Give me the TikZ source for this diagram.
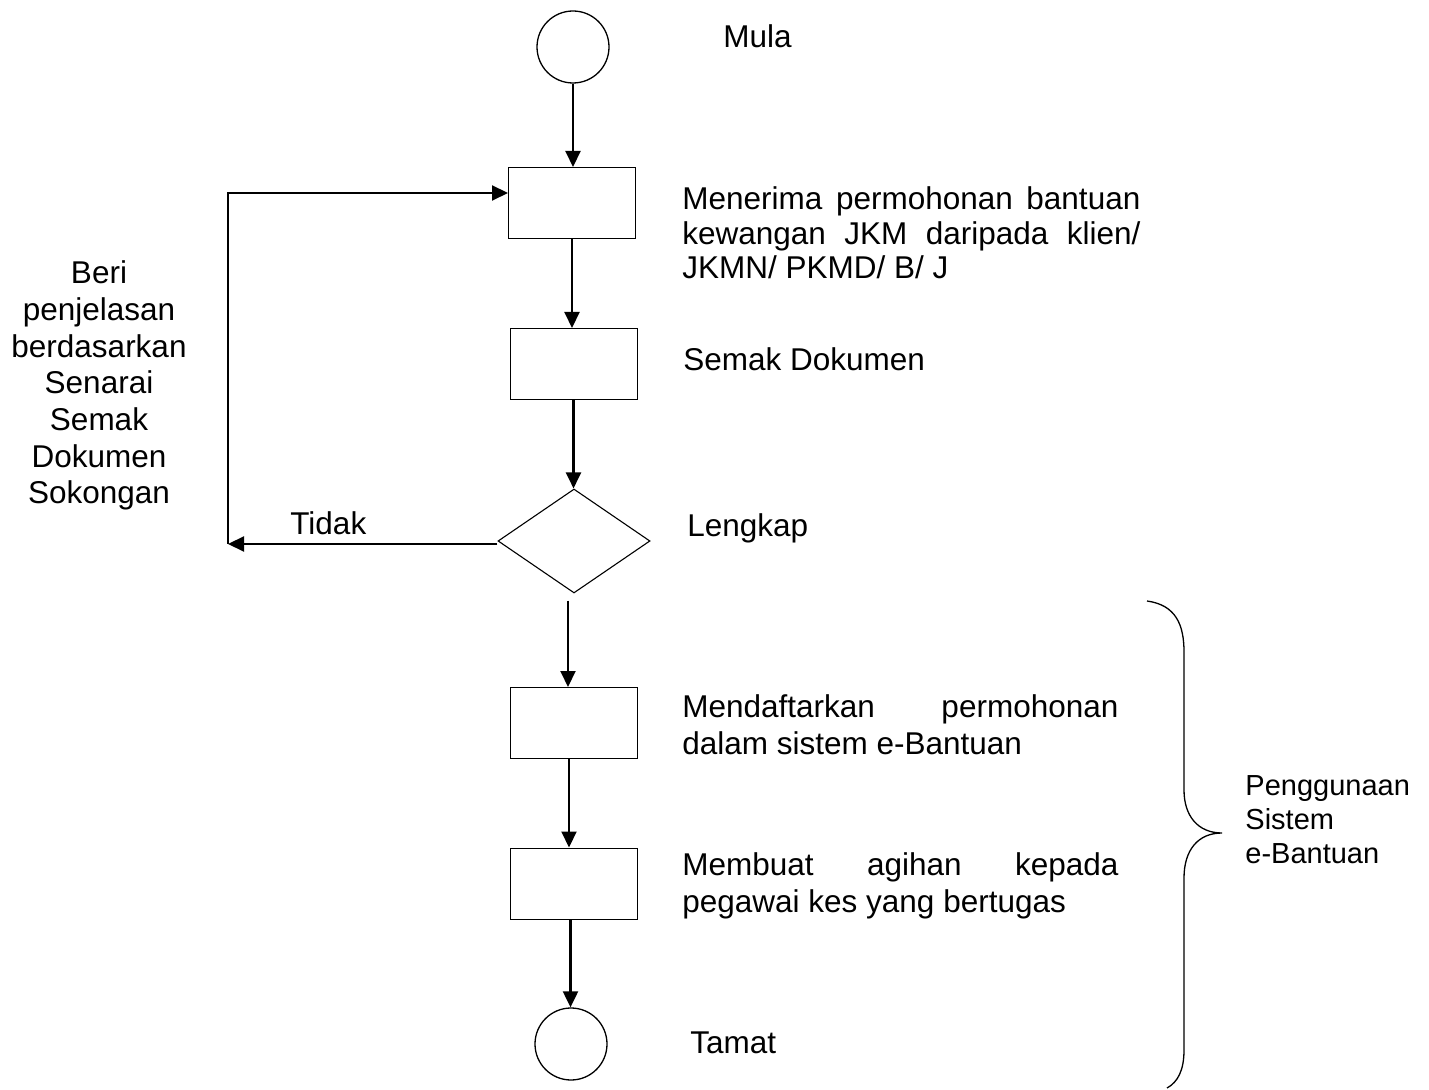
\documentclass[tikz,border=0pt]{standalone}
\usepackage{fontspec}
\setmainfont{Liberation Sans}
\usetikzlibrary{shapes.geometric,arrows.meta}
\begin{document}
\begin{tikzpicture}[x=0.5pt,y=-0.5pt,
  terminal/.style={draw,circle,line width=0.65pt,minimum size=36pt,inner sep=0pt},
  stepbox/.style={draw,rectangle,line width=0.5pt,minimum width=63.5pt,minimum height=35.5pt,inner sep=0pt},
  decision/.style={draw,diamond,line width=0.55pt,minimum width=76pt,minimum height=52pt,inner sep=0pt,aspect=1.46},
  flow/.style={line width=1.05pt,-{Triangle[length=8pt,width=7.5pt]}},
  lbl/.style={inner sep=0pt,anchor=base west,font=\fontsize{15.75}{17.4}\selectfont,align=left},
]
\useasboundingbox (0,0) rectangle (1429,1090);

% flow shapes
\node[terminal] (start) at (573,47) {};
\node[stepbox] (b1) at (572,203) {};
\node[stepbox] (b2) at (573.5,364) {};
\node[decision] (d) at (574,541) {};
\node[stepbox] (b3) at (573.5,723) {};
\node[stepbox] (b4) at (573.5,883.5) {};
\node[terminal] (end) at (571,1044) {};

% main vertical flow
\draw[flow] (start.south) -- (start.south |- b1.north);
\draw[flow] (b1.south) -- (b1.south |- b2.north);
\draw[flow] (b2.south) -- (b2.south |- d.north);
\coordinate (dx) at ([xshift=-3pt,yshift=-3.5pt]d.south);
\draw[flow] (dx) -- (dx |- b3.north);
\draw[flow] ([xshift=-2.25pt]b3.south) -- ([xshift=-2.25pt]b4.north);
\coordinate (ex) at ([xshift=-1.5pt]b4.south);
\draw[flow] (ex) -- (ex |- end.north);

% return path for incomplete documents
\coordinate (dw) at ([yshift=-1.5pt]d.west);
\coordinate (lb) at (228,544);
\coordinate (lt) at (228,193);
\draw[flow] (dw) -- (dw -| lb);
\draw[flow] (lb) -- (lt) -- (lt -| b1.west);

% step descriptions (nodes anchored at the baseline of their last line)
\node[lbl] (tmula) at (723,48) {Mula};
\node[lbl,font=\fontsize{15.75}{17.3}\selectfont] (t1) at (682,279)
  {\makebox[229pt][s]{Menerima permohonan bantuan}\\
   \makebox[229pt][s]{kewangan JKM daripada klien/}\\
   JKMN/ PKMD/ B/ J};
\node[lbl] (t2) at (683,371) {Semak Dokumen};
\node[lbl] (t3) at (687,537) {Lengkap};
\node[lbl,font=\fontsize{15.75}{18.5}\selectfont] (t4) at (682,754)
  {\makebox[218pt][s]{Mendaftarkan permohonan}\\dalam sistem e-Bantuan};
\node[lbl,font=\fontsize{15.75}{18.5}\selectfont] (t5) at (682,912)
  {\makebox[218pt][s]{Membuat agihan kepada}\\pegawai kes yang bertugas};
\node[lbl] (t6) at (690,1053) {Tamat};
\node[lbl] (tidak) at (290,535) {Tidak};
\node[inner sep=0pt,anchor=base,align=center,font=\fontsize{15.75}{18.35}\selectfont] (beri) at (99,504)
  {Beri\\penjelasan\\berdasarkan\\Senarai\\Semak\\Dokumen\\Sokongan};

% brace over the e-Bantuan steps
\draw[line width=0.65pt] (1147,601) .. controls (1176,605) and (1184,625) .. (1184,652)
  -- (1184,790) .. controls (1184,816) and (1198,833) .. (1222,833)
  .. controls (1198,833) and (1184,850) .. (1184,878)
  -- (1184,1050) .. controls (1184,1070) and (1178,1082) .. (1167,1088);
\node[lbl,font=\fontsize{14.5}{17}\selectfont] (pg) at (1245,863) {Penggunaan\\Sistem\\e-Bantuan};
\end{tikzpicture}
\end{document}
